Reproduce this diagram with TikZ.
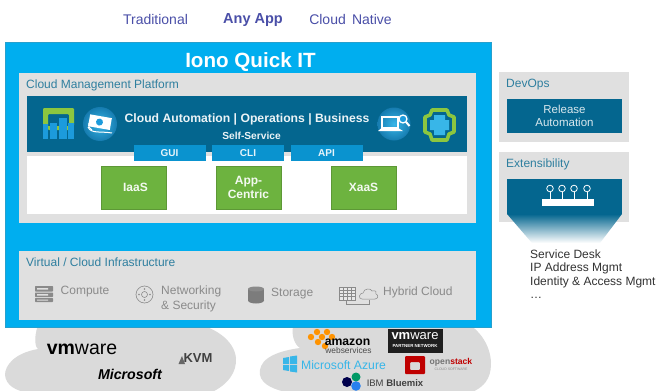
\documentclass[tikz,border=0pt]{standalone}
\usepackage{fontspec}
\setmainfont{Liberation Sans}
\usetikzlibrary{shadows,shadings}
\definecolor{skyb}{HTML}{00AEEF}
\definecolor{panel}{HTML}{E0E0E0}
\definecolor{deep}{HTML}{04668F}
\definecolor{tab}{HTML}{0A93CF}
\definecolor{leaf}{HTML}{6DB33F}
\definecolor{leafb}{HTML}{8CC63F}
\definecolor{head}{HTML}{2F7F9F}
\definecolor{violet}{HTML}{4A4FA8}
\definecolor{cloudg}{HTML}{DADADA}
\definecolor{iconb}{HTML}{1C9BDC}
\definecolor{infra}{HTML}{8A8A8A}
\definecolor{ltblue}{HTML}{38B6E8}
\tikzset{
 x=1pt,y=-1pt,
 top/.style={inner sep=0pt,text=violet,font=\fontsize{14}{14}\selectfont},
 heading/.style={anchor=west,inner sep=0pt,text=head,font=\fontsize{12}{12}\selectfont},
 tabbox/.style={fill=tab,minimum width=72pt,minimum height=16.5pt,inner sep=0pt,text=white!90!tab,font=\bfseries\fontsize{10}{10}\selectfont},
 greenbox/.style={fill=leaf,draw=leaf!85!black,line width=.5pt,minimum width=65pt,minimum height=43pt,inner sep=0pt,align=center,text=white!92!leaf,font=\bfseries\fontsize{12}{14}\selectfont,drop shadow={shadow xshift=.6pt,shadow yshift=-.8pt,opacity=.35,fill=black}},
 inf/.style={anchor=west,inner sep=0pt,text=infra,align=left,font=\fontsize{12}{14.5}\selectfont},
 infic/.style={draw=infra,fill=none,line width=.8pt},
}
\begin{document}
\begin{tikzpicture}
\useasboundingbox (0,0) rectangle (657,391);
\fill[white] (0,0) rectangle (657,391);
% top labels
\node[top] (trad) at (155.5,19) {Traditional};
\node[top,font=\bfseries\fontsize{14.5}{14}\selectfont] (any) at (253,20) {Any App};
\node[top] (cn) at (350.5,19) {Cloud\, Native};
% clouds beneath
\fill[cloudg] (38,325) .. controls (33,340) and (36,348) .. (38,349) .. controls (15,353) and (5,365) .. (5,375) .. controls (6,385) and (15,391) .. (30,393) -- (210,393) .. controls (228,385) and (237,372) .. (236,358) .. controls (234,340) and (215,327) .. (190,322) -- cycle;
\fill[cloudg] (294,322) .. controls (290,335) and (295,345) .. (300,348) .. controls (270,352) and (258,362) .. (260,375) .. controls (262,385) and (275,390) .. (290,393) -- (470,393) .. controls (490,385) and (491,372) .. (491,362) .. controls (490,345) and (480,330) .. (465,322) -- cycle;
% main frame
\node[fill=skyb,draw=skyb!70!gray,line width=.4pt,minimum width=486pt,minimum height=285pt,inner sep=0pt] (main) at (248,184.5) {};
\node[inner sep=0pt,text=white,font=\bfseries\fontsize{20.6}{20}\selectfont] (title) at (250.5,62.5) {Iono Quick IT};
% CMP
\fill[panel] (19,73) rectangle (476,223);
\node[heading] (cmp) at (26,85) {Cloud Management Platform};
\fill[white] (27,156) rectangle (467,214);
\fill[deep] (27,95.5) rectangle (467,152);
\node[inner sep=0pt,text=white!92!deep,font=\bfseries\fontsize{12.2}{12}\selectfont] (auto) at (247,119) {Cloud Automation | Operations | Business};
\node[inner sep=0pt,text=white!92!deep,font=\bfseries\fontsize{10.2}{10}\selectfont] (self) at (251.5,136) {Self-Service};
\node[tabbox] (gui) at (169.5,153) {GUI};
\node[tabbox] (cli) at (248,153) {CLI};
\node[tabbox] (api) at (326.5,153) {API};
\node[greenbox] (iaas) at (133.5,187.5) {\hspace{4pt}IaaS};
\node[greenbox] (app) at (248.5,187.5) {App-\\Centric};
\node[greenbox] (xaas) at (363.5,187.5) {XaaS};
% left icons
\fill[leafb,even odd rule,rounded corners=1pt] (43,108) rectangle (74,126) (48,114) rectangle (69,130);
\fill[iconb] (43,124) rectangle (48,139);
\fill[iconb] (50,123) rectangle (57,139);
\fill[iconb] (59,118) rectangle (67,139);
\fill[iconb] (68,123) rectangle (74,139);
\shade[inner color=ltblue,outer color=iconb!80!black] (100,124) circle (17);
\fill[white,rotate around={-10:(99,122)}] (89,116) rectangle (111,128);
\fill[iconb,rotate around={-10:(99,122)}] (99.5,122) circle (3.5);
\draw[white,line width=1pt] (88,127) .. controls (91,134) and (100,131) .. (112,133);
\draw[white,line width=1pt] (89,123) .. controls (88,127) and (90,129) .. (92,130);
% right icons
\shade[inner color=ltblue,outer color=iconb!80!black] (394,124) circle (16.5);
\draw[white,line width=1.1pt] (382,117) -- (382,128) -- (398,128) -- (398,117) -- cycle;
\fill[white] (381,128.5) -- (399,128.5) -- (403,131) -- (378,131) -- cycle;
\fill[iconb] (403,119) circle (4);
\draw[white,line width=1.3pt] (403,119) circle (4);
\draw[white,line width=2pt] (406,122) -- (409.5,126);
\draw[leafb,line width=3.6pt,line join=round,fill=deep] (432,110) -- (447,110) -- (449,115) -- (454,117) -- (454,132) -- (449,134) -- (447,140) -- (432,140) -- (430,134) -- (425,132) -- (425,117) -- (430,115) -- cycle;
\fill[ltblue] (434,115) rectangle (445,135) (430,120) rectangle (449,130);
% Infra
\fill[panel] (19,251) rectangle (476,320);
\node[heading] (vci) at (26,262) {Virtual / Cloud Infrastructure};
\fill[infra,rounded corners=.6pt] (35,286) rectangle (53,291.5) (35,292.5) rectangle (53,297) (35,298) rectangle (53,302);
\fill[panel] (37,288) rectangle (48,289.5) (37,294) rectangle (48,295.5) (37,299.5) rectangle (48,300.5);
\node[inf] (comp) at (60.5,291.5) {Compute};
\draw[infic,line width=.6pt] (144.5,294.5) circle (8.5) (144.5,294.5) circle (3);
\foreach \a in {0,90,180,270} \fill[infra] (144.5,294.5) ++(\a:5.5) circle (.8);
\node[inf] (net) at (161,299) {Networking\\\& Security};
\fill[infra!90!black] (248,289) rectangle (264,300);
\fill[infra] (256,289) ellipse (8 and 2.5);
\fill[infra!90!black] (256,300.5) ellipse (8 and 3);
\node[inf] (stor) at (271,293.5) {Storage};
\draw[infic,line width=.5pt,fill=infra!20] (339,287) rectangle (355,300);
\foreach \k in {290,293,296} \draw[infra,line width=.5pt] (339,\k) -- (355,\k);
\foreach \k in {343,347,351} \draw[infra,line width=.5pt] (\k,287) -- (\k,300);
\draw[infra,line width=.5pt] (346,301) -- (346,304) -- (369,304) -- (369,300);
\draw[infra,line width=.5pt] (362,299) .. controls (358,299) and (359,293) .. (363,293) .. controls (364,288) and (371,288) .. (372,291) .. controls (376,290) and (377,292) .. (376,294) .. controls (379,295) and (378,299) .. (375,299) -- cycle;
\node[inf] (hyb) at (383,292.5) {Hybrid Cloud};
% cloud logos
\node[inner sep=0pt,font=\bfseries\fontsize{19.5}{16}\selectfont] (vmw) at (82,349.5) {vm\mdseries ware};
\node[inner sep=0pt,text=black!75,font=\bfseries\fontsize{13}{12}\selectfont] (kvm) at (198,358.5) {KVM};
\fill[black!60] (178.5,364) -- (182,356) -- (185,364) -- cycle;
\node[inner sep=0pt,font=\bfseries\itshape\fontsize{14.2}{11}\selectfont] (ms) at (130,374.5) {Microsoft};
% amazon
\foreach \p in {(311,337),(317,332),(322,337),(327,332),(332,337),(318,342),(325,346)} \fill[orange!85!yellow] \p circle (3.2);
\node[inner sep=0pt,font=\bfseries\fontsize{12.2}{14}\selectfont] (amz) at (347.5,342) {amazon};
\node[inner sep=0pt,text=black!70,font=\fontsize{8.4}{8}\selectfont] (ws) at (348.5,350.5) {webservices};
% vmware partner
\node[fill=black!88,minimum width=55pt,minimum height=24pt,inner sep=0pt] (vbox) at (415,340.5) {};
\node[inner sep=0pt,text=white,font=\bfseries\fontsize{13}{11}\selectfont] (vt) at (415,336) {vm\mdseries ware};
\node[inner sep=0pt,text=white,font=\bfseries\fontsize{4.4}{4}\selectfont] (vp) at (415,345.5) {PARTNER NETWORK};
% azure
\fill[ltblue] (283,358) -- (289,357) -- (289,364) -- (283,364) -- cycle;
\fill[ltblue] (290,356.5) -- (297,355.5) -- (297,364) -- (290,364) -- cycle;
\fill[ltblue] (283,365) -- (289,365) -- (289,371) -- (283,370) -- cycle;
\fill[ltblue] (290,365) -- (297,365) -- (297,372.5) -- (290,371.5) -- cycle;
\node[inner sep=0pt,text=ltblue,font=\fontsize{12.2}{14}\selectfont] (az) at (343.5,365) {Microsoft Azure};
% openstack
\fill[red!75!black,rounded corners=1pt,even odd rule] (405,356) rectangle (425,374) (410,362) rectangle (420,370);
\node[inner sep=0pt,font=\bfseries\fontsize{8.6}{10}\selectfont,text=black!55] (os) at (451,362) {open\textcolor{red!75!black}{stack}};
\node[inner sep=0pt,text=black!45,font=\fontsize{3.5}{4}\selectfont] (oc) at (451,369) {CLOUD SOFTWARE};
% bluemix
\fill[black!70!blue] (347,382) circle (5);
\fill[teal!80!green] (356,377) circle (4.5);
\fill[ltblue!70!blue] (356,386) circle (4.8);
\node[inner sep=0pt,text=black!75,font=\fontsize{9.5}{10}\selectfont] (ibm) at (395,383) {IBM \textbf{Bluemix}};
% right panels
\fill[panel] (499,72) rectangle (629,142);
\node[heading] (dev) at (506,85) {DevOps};
\node[fill=deep,minimum width=115pt,minimum height=34pt,inner sep=0pt,align=center,text=white!85!deep,font=\fontsize{11.5}{13}\selectfont] (rel) at (564.5,116) {Release\\Automation};
\fill[panel] (499,152) rectangle (629,222);
\node[heading] (ext) at (506,164.5) {Extensibility};
\shade[top color=deep,bottom color=white] (507,214) -- (622,214) -- (600,243) -- (532,243) -- cycle;
\node[fill=deep,minimum width=115pt,minimum height=34.5pt,inner sep=0pt] (extbox) at (564.5,196.5) {};
\fill[white] (542,199) rectangle (593.5,206);
\foreach \k in {550,562,574,587} {\draw[white,line width=.8pt] (\k,188.5) circle (3.3); \draw[white,line width=.8pt] (\k,192) -- (\k,199);}
\node[anchor=north west,inner sep=0pt,align=left,text=black!80,font=\fontsize{12}{13.4}\selectfont] (list) at (530,249.5) {Service Desk\\IP Address Mgmt\\Identity \& Access Mgmt\\\dots};
\end{tikzpicture}
\end{document}
